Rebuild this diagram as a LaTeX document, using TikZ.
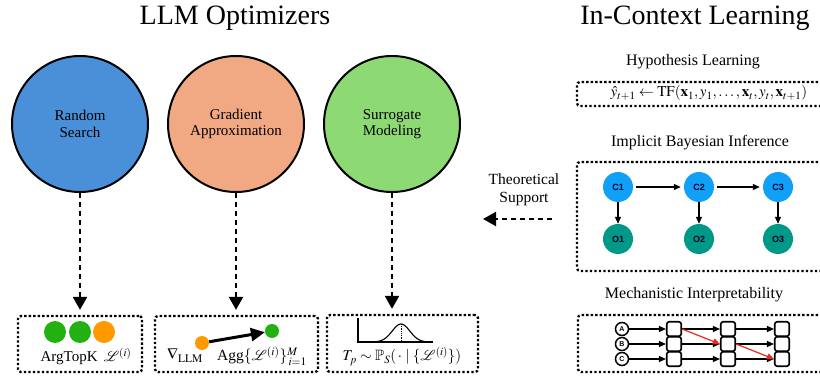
\documentclass[tikz,border=0pt]{standalone}
\usepackage{amsmath,amssymb,mathrsfs}
\usepackage{mathptmx}
\usepackage{fontspec}
\setmainfont{Liberation Serif}
\setsansfont{Liberation Sans}
\usetikzlibrary{arrows.meta}
\definecolor{cblue}{RGB}{74,144,217}
\definecolor{corange}{RGB}{241,169,131}
\definecolor{cgreen}{RGB}{141,217,115}
\definecolor{dgreen}{RGB}{34,177,17}
\definecolor{dorange}{RGB}{255,153,0}
\definecolor{nblue}{RGB}{17,160,247}
\definecolor{nteal}{RGB}{0,153,136}
\definecolor{nred}{RGB}{230,40,30}
\newcommand{\fs}[2]{\fontsize{#1}{#2}\selectfont}
\begin{document}
\begin{tikzpicture}[x=1pt,y=-1pt,
  opt/.style={circle,draw,line width=2pt,minimum size=136pt,inner sep=0pt,align=center,font=\fs{15}{16.5}},
  dotbox/.style={draw,line width=2.3pt,dash pattern=on 2.3pt off 2.2pt,rounded corners=3pt,inner sep=0pt},
  darr/.style={line width=2.3pt,dash pattern=on 5pt off 4pt,-{Triangle[length=13pt,width=14pt]}},
  sarr/.style={line width=1.2pt,-{Triangle[length=7pt,width=6pt]}},
  cnode/.style={circle,fill=nblue,minimum size=30pt,inner sep=0pt,font=\sffamily\bfseries\fs{9}{10},text=black!85!blue},
  onode/.style={circle,fill=nteal,minimum size=30pt,inner sep=0pt,font=\sffamily\bfseries\fs{9}{10},text=black!85!blue},
  inode/.style={circle,draw,line width=1.5pt,minimum size=13pt,inner sep=0pt,font=\sffamily\bfseries\fs{7}{8}},
  sq/.style={draw,line width=1.6pt,rounded corners=2.5pt,minimum size=14.5pt,inner sep=0pt},
  title/.style={anchor=base,font=\fs{28}{32}},
  sub/.style={anchor=base,font=\fs{16}{18}},
  lbl/.style={anchor=base,font=\fs{15}{17}}
]
\useasboundingbox (0,0) rectangle (820,379);
\clip (0,0) rectangle (820,379);

% titles
\node[title] (t1) at (235,25) {LLM Optimizers};
\node[title] (t2) at (695,25) {In-Context Learning};

% optimizer circles
\node[opt,fill=cblue] (c1) at (80,124) {Random\\Search};
\node[opt,fill=corange] (c2) at (236,124) {Gradient\\Approximation};
\node[opt,fill=cgreen] (c3) at (392,124) {Surrogate\\Modeling};

% bottom boxes
\node[dotbox,minimum width=124pt,minimum height=56pt] (b1) at (80,344) {};
\node[dotbox,minimum width=163pt,minimum height=56pt] (b2) at (236.5,344) {};
\node[dotbox,minimum width=151pt,minimum height=57pt] (b3) at (402.5,343.5) {};

\draw[darr,shorten >=5pt] (c1.south) -- (c1.south |- b1.north);
\draw[darr,shorten >=5pt] (c2.south) -- (c2.south |- b2.north);
\draw[darr,shorten >=5pt] (c3.south) -- (c3.south |- b3.north);

% box 1
\node[circle,fill=dgreen,minimum size=22pt,inner sep=0pt] (g1) at (55,332) {};
\node[circle,fill=dgreen,minimum size=22pt,inner sep=0pt] (g2) at (80,332) {};
\node[circle,fill=dorange,minimum size=22pt,inner sep=0pt] (g3) at (104,332) {};
\node[lbl] (l1) at (86,362) {ArgTopK \,$\mathscr{L}^{(i)}$};

% box 2
\node[circle,fill=dorange,minimum size=14pt,inner sep=0pt] (od) at (202,343) {};
\node[circle,fill=dgreen,minimum size=14pt,inner sep=0pt] (gd) at (272,331) {};
\draw[line width=3pt,-{Triangle[length=14pt,width=13pt]}] (od) -- (gd);
\node[lbl,font=\fs{15.5}{17}] (l2a) at (185,360) {$\nabla_{\mathrm{LLM}}$};
\node[lbl,font=\fs{15.5}{17}] (l2b) at (262,361) {Agg$\{\mathscr{L}^{(i)}\}_{\,i=1}^{M}$};

% box 3
\draw[line width=1.6pt] (358,318) -- (358,342) -- (433,342);
\draw[line width=1.1pt,domain=360:433,samples=80] plot (\x,{342-18*exp(-((\x-401)/12.5)^2)});
\draw[line width=0.8pt,densely dotted] (401,324) -- (401,342);
\node[lbl] (l3) at (402,361) {$T_p \sim \mathbb{P}_S(\,\cdot\mid\{\mathscr{L}^{(i)}\})$};

% Hypothesis learning
\node[sub] (s1) at (693,66) {Hypothesis Learning};
\node[dotbox,minimum width=253pt,minimum height=24pt] (h) at (703.5,94) {};
\node[anchor=base,font=\fs{15}{17}] (hf) at (709,97) {$\hat{y}_{t+1} \leftarrow \mathrm{TF}(\mathbf{x}_1, y_1, \ldots, \mathbf{x}_t, y_t, \mathbf{x}_{t+1})$};

% Implicit Bayesian inference
\node[sub] (s2) at (700,147) {Implicit Bayesian Inference};
\node[dotbox,minimum width=253pt,minimum height=109pt] (ib) at (703.5,216.5) {};
\node[cnode] (C1) at (618,187) {C1};
\node[cnode] (C2) at (699,187) {C2};
\node[cnode] (C3) at (778,187) {C3};
\node[onode] (O1) at (618,239) {O1};
\node[onode] (O2) at (699,239) {O2};
\node[onode] (O3) at (778,239) {O3};
\draw[sarr,shorten <=3pt,shorten >=3pt] (C1) -- (C2);
\draw[sarr,shorten <=3pt,shorten >=3pt] (C2) -- (C3);
\draw[sarr] (C1) -- (O1);
\draw[sarr] (C2) -- (O2);
\draw[sarr] (C3) -- (O3);

% theoretical support
\node[align=center,font=\fs{15.5}{18}] (ts) at (524,190) {Theoretical\\Support};
\coordinate (tsa) at (552,219);
\coordinate (tsb) at (483,219);
\draw[darr,line width=2.2pt] (tsa) -- (tsb);

% Mechanistic interpretability
\node[sub] (s3) at (694,299) {Mechanistic Interpretability};
\node[dotbox,minimum width=252pt,minimum height=57pt] (mi) at (704,343.5) {};
\node[inode] (A) at (622,329) {A};
\node[inode] (B) at (622,344) {B};
\node[inode] (C) at (622,359) {C};
\foreach \r/\y in {1/329,2/344,3/359}{
  \node[sq] (q\r1) at (674,\y) {};
  \node[sq] (q\r2) at (728,\y) {};
  \node[sq] (q\r3) at (782,\y) {};
  \draw[sarr] (q\r1) -- (q\r2);
  \draw[sarr] (q\r2) -- (q\r3);
}
\draw[sarr] (A) -- (q11);
\draw[sarr] (B) -- (q21);
\draw[sarr] (C) -- (q31);
\draw[sarr,nred] (q11.east) -- (q22.west);
\draw[sarr,nred] (q22.east) -- (q33.west);
\end{tikzpicture}
\end{document}
